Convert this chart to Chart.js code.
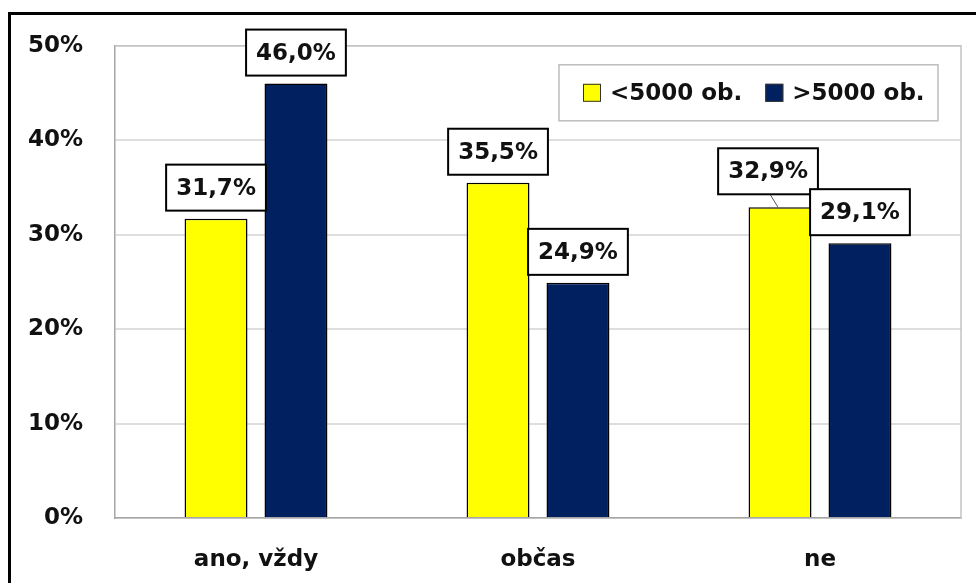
<!DOCTYPE html>
<html><head><meta charset="utf-8">
<script src="https://cdn.jsdelivr.net/npm/chart.js@4/dist/chart.umd.min.js"></script>
<style>html,body{margin:0;padding:0;background:#fff;overflow:hidden}
#wrap{position:relative;width:976px;height:583px}</style>
</head><body><div id="wrap"><canvas id="c" width="976" height="583"></canvas></div>
<script>
const categories = ['ano, vždy', 'občas', 'ne'];
const seriesNames = ['<5000 ob.', '>5000 ob.'];
const smallTowns = [31.7, 35.5, 32.9];
const largeTowns = [46.0, 24.9, 29.1];
const yTickValues = [0, 10, 20, 30, 40, 50];

const FONT = 'bold 23px "DejaVu Sans", Verdana, sans-serif';
const fmt = v => v.toFixed(1).replace('.', ',') + '%';

const frameAndArea = {
  id: 'frameAndArea',
  beforeDatasetsDraw(chart) {
    const {ctx, chartArea: a} = chart;
    ctx.save();
    ctx.strokeStyle = '#c4c4c4';
    ctx.lineWidth = 1.5;
    ctx.beginPath();
    ctx.moveTo(a.left, a.top);
    ctx.lineTo(a.right, a.top);
    ctx.lineTo(a.right, a.bottom);
    ctx.stroke();
    ctx.restore();
  },
  afterDraw(chart) {
    const ctx = chart.ctx;
    ctx.save();
    ctx.strokeStyle = '#000';
    ctx.lineWidth = 3;
    ctx.strokeRect(9.5, 13.5, 3000, 3000);
    ctx.restore();
  }
};

const boxLabels = {
  id: 'boxLabels',
  afterDatasetsDraw(chart, args, opts) {
    const ctx = chart.ctx;
    ctx.save();
    ctx.font = FONT;
    chart.data.datasets.forEach((ds, i) => {
      const meta = chart.getDatasetMeta(i);
      meta.data.forEach((el, j) => {
        const txt = fmt(ds.data[j]);
        const sh = (opts.shifts[i] && opts.shifts[i][j]) || {dx: 0, dy: 0};
        const w = ctx.measureText(txt).width + 20;
        const h = 46;
        const cx = el.x + sh.dx;
        const bottom = el.y - opts.gap + sh.dy;
        if (sh.dx || sh.dy) {
          ctx.strokeStyle = '#555';
          ctx.lineWidth = 1;
          ctx.beginPath();
          ctx.moveTo(cx + 2, bottom);
          ctx.lineTo(el.x - 2, el.y);
          ctx.stroke();
        }
        ctx.fillStyle = '#fff';
        ctx.fillRect(cx - w / 2, bottom - h, w, h);
        ctx.strokeStyle = '#000';
        ctx.lineWidth = 2;
        ctx.strokeRect(cx - w / 2, bottom - h, w, h);
        ctx.fillStyle = '#111';
        ctx.textAlign = 'center';
        ctx.textBaseline = 'middle';
        ctx.fillText(txt, cx, bottom - h / 2 + 1);
      });
    });
    ctx.restore();
  }
};

const boxLegend = {
  id: 'boxLegend',
  afterDatasetsDraw(chart, args, opts) {
    const {ctx, chartArea: a} = chart;
    const right = a.right - opts.marginRight;
    const top = a.top + opts.marginTop;
    const left = right - opts.width;
    ctx.save();
    ctx.fillStyle = '#fff';
    ctx.fillRect(left, top, opts.width, opts.height);
    ctx.strokeStyle = '#bdbdbd';
    ctx.lineWidth = 1.5;
    ctx.strokeRect(left, top, opts.width, opts.height);
    ctx.font = FONT;
    ctx.textBaseline = 'middle';
    ctx.textAlign = 'left';
    let x = left + 24;
    const cy = top + opts.height / 2;
    chart.data.datasets.forEach(ds => {
      ctx.fillStyle = ds.backgroundColor;
      ctx.fillRect(x, cy - 9, 18, 18);
      ctx.strokeStyle = '#333';
      ctx.lineWidth = 1;
      ctx.strokeRect(x + 0.5, cy - 8.5, 17, 17);
      ctx.fillStyle = '#111';
      ctx.fillText(ds.label, x + 27, cy + 1);
      x += 27 + ctx.measureText(ds.label).width + 23;
    });
    ctx.restore();
  }
};

new Chart(document.getElementById('c'), {
  type: 'bar',
  data: {
    labels: categories,
    datasets: [
      {label: seriesNames[0], data: smallTowns, backgroundColor: '#ffff00', borderColor: '#000', borderWidth: 1.5},
      {label: seriesNames[1], data: largeTowns, backgroundColor: '#002060', borderColor: '#000', borderWidth: 1.5}
    ]
  },
  options: {
    responsive: false,
    animation: false,
    devicePixelRatio: 1,
    categoryPercentage: 0.567,
    barPercentage: 0.7875,
    layout: {padding: {top: 44, right: 15, left: 0, bottom: 0}},
    plugins: {
      legend: {display: false},
      tooltip: {enabled: false},
      boxLabels: {gap: 8, shifts: [[null, null, {dx: -12, dy: -5}], [null, null, null]]},
      boxLegend: {width: 379, height: 56, marginRight: 23, marginTop: 19}
    },
    scales: {
      x: {
        grid: {display: false, drawTicks: false},
        border: {display: true, color: '#a6a6a6', width: 1.5},
        ticks: {font: {family: '"DejaVu Sans", Verdana, sans-serif', size: 23, weight: 'bold'}, color: '#111', padding: 28},
        afterFit(s) { s.height = 65; }
      },
      y: {
        min: 0, max: 50,
        afterBuildTicks(s) { s.ticks = yTickValues.map(v => ({value: v})); },
        grid: {color: '#dedede', lineWidth: 2, drawTicks: false},
        border: {display: true, color: '#a6a6a6', width: 1.5},
        ticks: {font: {family: '"DejaVu Sans", Verdana, sans-serif', size: 23, weight: 'bold'}, color: '#111', padding: 32, callback: v => v + '%'},
        afterFit(s) { s.width = 115; }
      }
    }
  },
  plugins: [frameAndArea, boxLabels, boxLegend]
});
</script></body></html>
